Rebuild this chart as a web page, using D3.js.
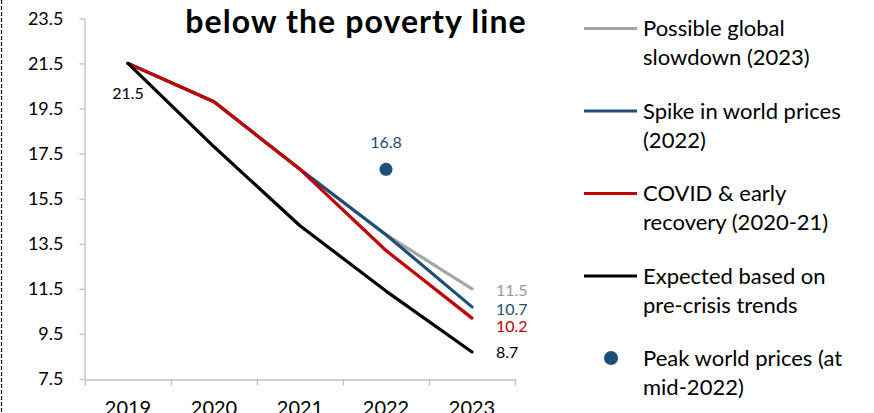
<!DOCTYPE html>
<html>
<head>
<meta charset="utf-8">
<script src="https://cdn.jsdelivr.net/npm/d3@7"></script>
<style>
  html, body { margin: 0; padding: 0; background: #fff; }
  svg { display: block; font-family: Lato, "Open Sans", sans-serif; }
</style>
</head>
<body>
<svg id="chart" width="874" height="413"></svg>
<script>
// ---- data ----
const years = ["2019", "2020", "2021", "2022", "2023"];
const yTicks = [7.5, 9.5, 11.5, 13.5, 15.5, 17.5, 19.5, 21.5, 23.5];
const slowdown = [21.5, 19.8, 16.8, 13.9, 11.5];
const spike = [21.5, 19.8, 16.8, 13.9, 10.7];
const covid = [21.5, 19.8, 16.8, 13.2, 10.2];
const expected = [21.5, 17.8, 14.3, 11.4, 8.7];
const peakYear = "2022";
const peakValue = 16.8;
const seriesNames = ["Possible global slowdown (2023)", "Spike in world prices (2022)", "COVID & early recovery (2020-21)", "Expected based on pre-crisis trends"];
const legendLines = [
  ["Possible global", "slowdown (2023)"],
  ["Spike in world prices", "(2022)"],
  ["COVID & early", "recovery (2020-21)"],
  ["Expected based on", "pre-crisis trends"],
  ["Peak world prices (at", "mid-2022)"]
];
const titleText = "below the poverty line";

// ---- styles ----
const colors = ["#A6A6A6", "#1F4E79", "#C00000", "#000000"];
const labelColors = ["#9A9A9A", "#1F4E79", "#C00000", "#000000"];
const axisColor = "#BFBFBF";

const svg = d3.select("#chart");

const x = d3.scaleBand().domain(years).range([85, 515]).padding(0);
const y = d3.scaleLinear().domain([7.5, 23.5]).range([379, 18.3]);
const cx = d => x(d) + x.bandwidth() / 2;

// left dashed border
svg.append("line")
  .attr("x1", 1.5).attr("x2", 1.5).attr("y1", 0).attr("y2", 413)
  .attr("stroke", "#000").attr("stroke-width", 1.2)
  .attr("stroke-dasharray", "4,2");

// Y axis
const yAxis = svg.append("g")
  .attr("transform", "translate(84.5,0)")
  .call(d3.axisLeft(y).tickValues(yTicks).tickFormat(d3.format(".1f")).tickSize(5).tickSizeOuter(0));
yAxis.select(".domain").attr("stroke", axisColor).attr("stroke-width", 1.3);
yAxis.selectAll(".tick line").attr("stroke", axisColor).attr("stroke-width", 1.3);
yAxis.selectAll(".tick text")
  .attr("fill", "#000").attr("font-size", 18).attr("x", -21)
  .attr("font-family", "Lato, sans-serif");

// X axis
const xAxis = svg.append("g")
  .attr("transform", "translate(0,379.5)")
  .call(d3.axisBottom(x).tickSize(0).tickSizeOuter(0));
xAxis.select(".domain").attr("stroke", axisColor).attr("stroke-width", 1.3);
xAxis.selectAll(".tick text")
  .attr("fill", "#000").attr("font-size", 20).attr("y", 21)
  .attr("dy", "0.71em")
  .attr("font-family", "Lato, sans-serif");
// boundary tick marks
const bounds = years.map(d => x(d)).concat([x(years[years.length - 1]) + x.bandwidth()]);
xAxis.selectAll(".btick").data(bounds).enter().append("line")
  .attr("class", "btick")
  .attr("x1", d => d + 0.5).attr("x2", d => d + 0.5)
  .attr("y1", 0).attr("y2", 6)
  .attr("stroke", axisColor).attr("stroke-width", 1.3);

// lines
const allSeries = [slowdown, spike, covid, expected];
const line = d3.line()
  .x((d, i) => cx(years[i]))
  .y(d => y(d));
allSeries.forEach((s, i) => {
  svg.append("path")
    .datum(s)
    .attr("d", line)
    .attr("fill", "none")
    .attr("stroke", colors[i])
    .attr("stroke-width", 3.2)
    .attr("stroke-linejoin", "round")
    .attr("stroke-linecap", "round");
});

// peak dot
svg.append("circle")
  .attr("cx", cx(peakYear)).attr("cy", y(peakValue)).attr("r", 6.5)
  .attr("fill", colors[1]);
svg.append("text")
  .attr("x", cx(peakYear)).attr("y", y(peakValue) - 21)
  .attr("text-anchor", "middle").attr("font-size", 16)
  .attr("fill", colors[1]).text(peakValue.toFixed(1));

// start label
svg.append("text")
  .attr("x", cx(years[0])).attr("y", y(expected[0]) + 36)
  .attr("text-anchor", "middle").attr("font-size", 16)
  .attr("fill", "#000").text(expected[0].toFixed(1));

// end labels
const endDy = [7, 8, 14, 6];
allSeries.forEach((s, i) => {
  const v = s[s.length - 1];
  svg.append("text")
    .attr("x", cx(years[years.length - 1]) + 24)
    .attr("y", y(v) + endDy[i])
    .attr("font-size", 16)
    .attr("fill", labelColors[i])
    .text(v.toFixed(1));
});

// title
svg.append("text")
  .attr("x", 356).attr("y", 33)
  .attr("text-anchor", "middle")
  .attr("font-size", 32).attr("font-weight", "bold")
  .attr("letter-spacing", 1.1)
  .attr("fill", "#000").text(titleText);

// legend
const legendX = 584, legendTextX = 643;
const legendTop = 36, legendStep = 82.5, lineGap = 29;
legendLines.forEach((lines, i) => {
  const base = legendTop + i * legendStep;
  if (i < 4) {
    svg.append("line")
      .attr("x1", legendX).attr("x2", legendX + 53)
      .attr("y1", base - 7.5).attr("y2", base - 7.5)
      .attr("stroke", colors[i]).attr("stroke-width", 3.2);
  } else {
    svg.append("circle")
      .attr("cx", 611).attr("cy", base - 8).attr("r", 7)
      .attr("fill", colors[1]);
  }
  lines.forEach((t, j) => {
    svg.append("text")
      .attr("x", legendTextX).attr("y", base + j * lineGap)
      .attr("font-size", 22).attr("fill", "#000")
      .text(t);
  });
});
</script>
</body>
</html>
